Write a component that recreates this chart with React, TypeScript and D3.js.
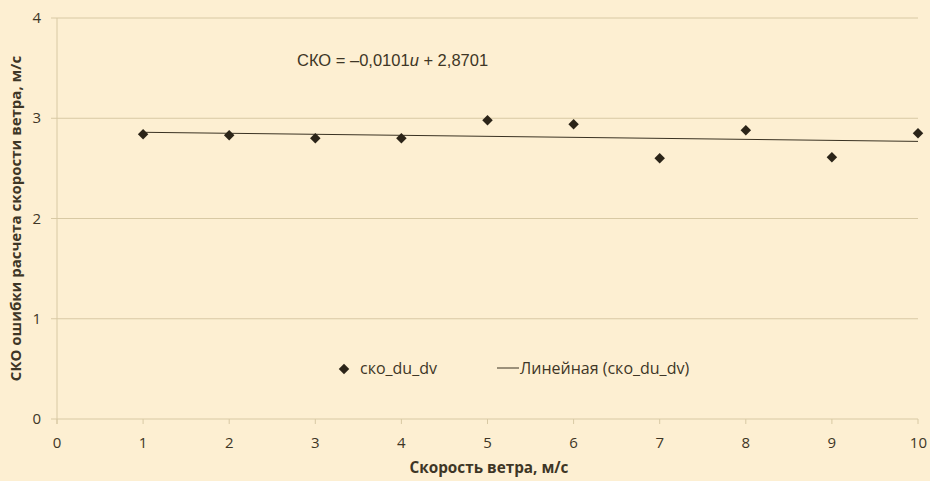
import React from "react";
import * as d3 from "d3";

const speeds = [1, 2, 3, 4, 5, 6, 7, 8, 9, 10];
const skoValues = [2.84, 2.83, 2.8, 2.8, 2.98, 2.94, 2.6, 2.88, 2.61, 2.85];
const xTicks = [0, 1, 2, 3, 4, 5, 6, 7, 8, 9, 10];
const yTicks = [0, 1, 2, 3, 4];
const trendSlope = -0.0101;
const trendIntercept = 2.8701;

const W = 930, H = 481;
const M = { left: 57, right: 12, top: 18, bottom: 62 };

export default function App() {
  const x = d3.scaleLinear().domain([0, 10]).range([M.left, W - M.right]);
  const y = d3.scaleLinear().domain([0, 4]).range([H - M.bottom, M.top]);
  const grid = "#d8c9a4";
  const txt = "#3e3626";
  const font = "'Open Sans', 'DejaVu Sans', sans-serif";
  const diamond = d3.symbol().type(d3.symbolDiamond2).size(70)();
  const trend = d3.line<number>().x((u) => x(u)).y((u) => y(trendSlope * u + trendIntercept));
  return (
    <svg width={W} height={H} style={{ position: "absolute", left: 0, top: 0, background: "#fdefd2" }}>
      <rect x={0} y={0} width={W} height={H} fill="#fdefd2" />
      {yTicks.filter((t) => t > 0).map((t) => (
        <line key={"g" + t} x1={x(0)} x2={x(10)} y1={y(t)} y2={y(t)} stroke={grid} strokeWidth={1} />
      ))}
      {yTicks.map((t) => (
        <g key={"yt" + t}>
          <line x1={x(0) - 6} x2={x(0)} y1={y(t)} y2={y(t)} stroke={grid} />
          <text x={x(0) - 16} y={y(t) + 5} textAnchor="end" fontFamily={font} fontSize={15} fill={txt}>{t}</text>
        </g>
      ))}
      <line x1={x(0)} x2={x(0)} y1={y(4)} y2={y(0) + 5} stroke={grid} />
      <line x1={x(0)} x2={x(10)} y1={y(0)} y2={y(0)} stroke={grid} />
      {xTicks.map((t) => (
        <g key={"xt" + t}>
          <line x1={x(t)} x2={x(t)} y1={y(0)} y2={y(0) + 5} stroke={grid} />
          <text x={x(t)} y={y(0) + 29} textAnchor={t === 10 ? "end" : "middle"} dx={t === 10 ? 9 : 0} fontFamily={font} fontSize={15} fill={txt}>{t}</text>
        </g>
      ))}
      <path d={trend([1, 10]) || ""} stroke="#3a3222" strokeWidth={1} fill="none" />
      {speeds.map((s, i) => (
        <path key={"p" + s} d={diamond} transform={`translate(${x(s)},${y(skoValues[i])})`} fill="#2b2418" />
      ))}
      <text x={297} y={66} fontFamily="'Liberation Sans', Arial, sans-serif" fontSize={16.5} fill={txt}>
        СКО = –0,0101<tspan fontStyle="italic">u</tspan> + 2,8701
      </text>
      <path d={diamond} transform="translate(344,369)" fill="#2b2418" />
      <text x={360} y={374} fontFamily={font} fontSize={16} fill={txt}>ско_du_dv</text>
      <line x1={497} x2={519} y1={368} y2={368} stroke="#3a3222" strokeWidth={1} />
      <text x={520} y={374} fontFamily={font} fontSize={16} fill={txt}>Линейная (ско_du_dv)</text>
      <text x={489} y={473} textAnchor="middle" fontFamily={font} fontSize={15.3} fontWeight="bold" fill={txt}>Скорость ветра, м/с</text>
      <text transform={`translate(21,${(y(0) + y(4)) / 2}) rotate(-90)`} textAnchor="middle" fontFamily={font} fontSize={15} fontWeight="bold" fill={txt}>СКО ошибки расчета скорости ветра, м/с</text>
    </svg>
  );
}
